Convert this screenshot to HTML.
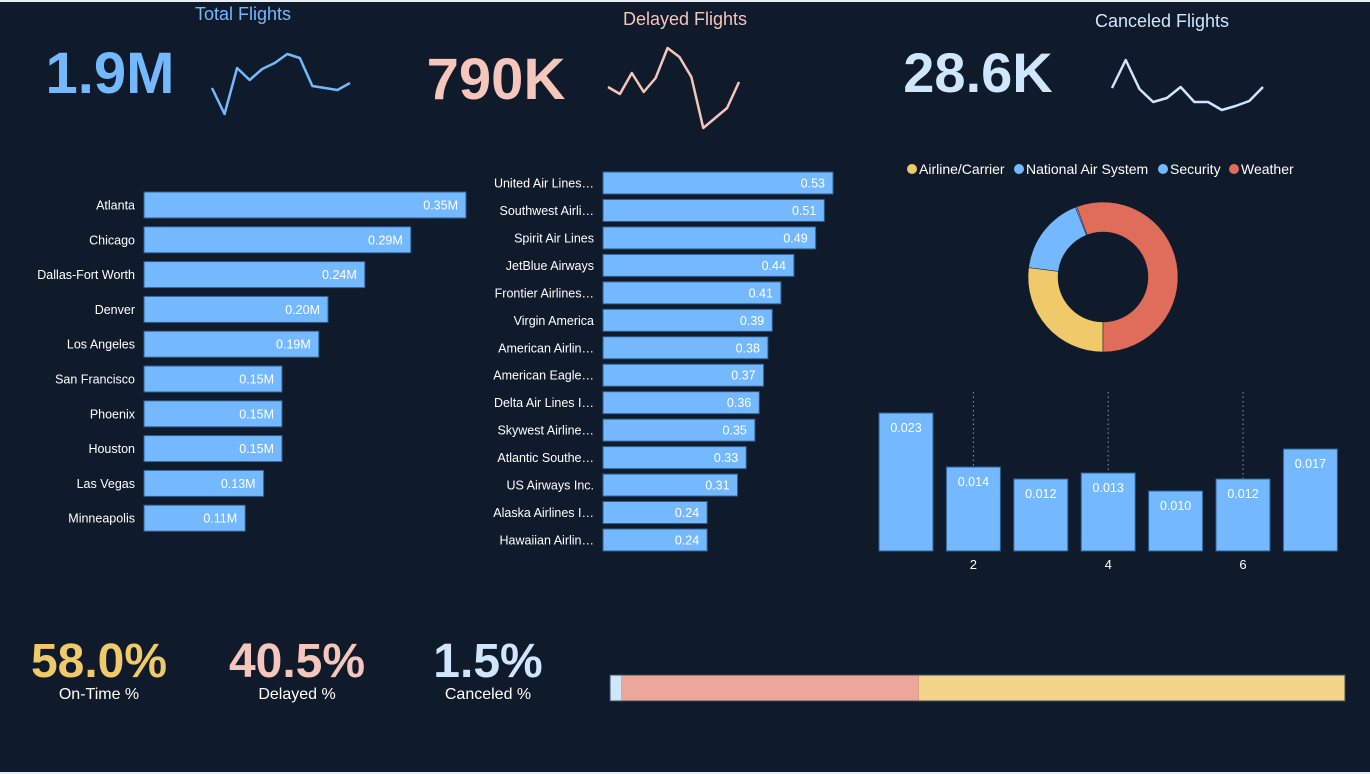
<!DOCTYPE html>
<html><head><meta charset="utf-8">
<style>
html,body{margin:0;padding:0;background:#0f1a2a;width:1370px;height:774px;overflow:hidden}
svg{display:block;font-family:"Liberation Sans",sans-serif}
</style></head>
<body>
<svg id="dash" width="1370" height="774" viewBox="0 0 1370 774" xmlns="http://www.w3.org/2000/svg">
<rect x="0" y="0" width="1370" height="774" fill="#0f1a2a"/>
<rect x="0" y="0" width="1370" height="2" fill="#e8edf2"/>
<rect x="0" y="772" width="1370" height="2" fill="#e8edf2"/>

<text x="243" y="20" text-anchor="middle" font-size="18" fill="#74b9ff">Total Flights</text>
<text x="110" y="93" text-anchor="middle" font-size="58" font-weight="bold" fill="#74b9ff">1.9M</text>
<text x="685" y="25" text-anchor="middle" font-size="18" fill="#f5c6bb">Delayed Flights</text>
<text x="496" y="99" text-anchor="middle" font-size="58" font-weight="bold" fill="#f5c6bb">790K</text>
<text x="1162" y="27" text-anchor="middle" font-size="18" fill="#cfe6ff">Canceled Flights</text>
<text x="978" y="92" text-anchor="middle" font-size="56" font-weight="bold" fill="#cfe6ff">28.6K</text>

<g id="spark"></g>
<g id="cities"></g>
<g id="airlines"></g>

<g font-size="14" fill="#ffffff">
<circle cx="912" cy="169" r="5" fill="#f0c96a"/>
<text x="919" y="174">Airline/Carrier</text>
<circle cx="1019" cy="169" r="5" fill="#74b9ff"/>
<text x="1026" y="174">National Air System</text>
<circle cx="1163" cy="169" r="5" fill="#74b9ff"/>
<text x="1170" y="174">Security</text>
<circle cx="1234" cy="169" r="5" fill="#e06c5a"/>
<text x="1241" y="174">Weather</text>
</g>
<g id="donut"></g>
<g id="cancelbars"></g>

<text x="99" y="677" text-anchor="middle" font-size="48" font-weight="bold" fill="#f0c96a">58.0%</text>
<text x="99" y="699" text-anchor="middle" font-size="16" fill="#ffffff">On-Time %</text>
<text x="297" y="677" text-anchor="middle" font-size="48" font-weight="bold" fill="#f5c6bb">40.5%</text>
<text x="297" y="699" text-anchor="middle" font-size="16" fill="#ffffff">Delayed %</text>
<text x="488" y="677" text-anchor="middle" font-size="48" font-weight="bold" fill="#cfe6ff">1.5%</text>
<text x="488" y="699" text-anchor="middle" font-size="16" fill="#ffffff">Canceled %</text>
<g id="stack"></g>
</svg>
<script>
const totalSpark=[176,150,196,184,195,201,210,206,178,176,174,181];
const delayedSpark=[53,46,67,48,62,92,83,63,12,22,32,58];
const canceledSpark=[32,60,31,18,22,33,18,18,10,14,19,33];
const cityNames=["Atlanta","Chicago","Dallas-Fort Worth","Denver","Los Angeles","San Francisco","Phoenix","Houston","Las Vegas","Minneapolis"];
const cityValues=[0.35,0.29,0.24,0.20,0.19,0.15,0.15,0.15,0.13,0.11];
const airlineNames=["United Air Lines…","Southwest Airli…","Spirit Air Lines","JetBlue Airways","Frontier Airlines…","Virgin America","American Airlin…","American Eagle…","Delta Air Lines I…","Skywest Airline…","Atlantic Southe…","US Airways Inc.","Alaska Airlines I…","Hawaiian Airlin…"];
const airlineValues=[0.53,0.51,0.49,0.44,0.41,0.39,0.38,0.37,0.36,0.35,0.33,0.31,0.24,0.24];
const causeNames=["Airline/Carrier","National Air System","Security","Weather"];
const causeValues=[27,17,0.3,55.7];
const causeColors=["#f0c96a","#74b9ff","#74b9ff","#e06c5a"];
const cancelMonths=[1,2,3,4,5,6,7];
const cancelValues=[0.023,0.014,0.012,0.013,0.010,0.012,0.017];
const cancelTicks=[2,4,6];
const statusNames=["Canceled","Delayed","On-Time"];
const statusValues=[1.5,40.5,58.0];
const statusColors=["#cfe6ff","#eca69a","#f2d388"];

const NS="http://www.w3.org/2000/svg";
function mk(tag,attrs,parent){const e=document.createElementNS(NS,tag);for(const k in attrs)e.setAttribute(k,attrs[k]);parent.appendChild(e);return e;}

// sparklines
function spark(vals,x0,x1,yTop,yBot,color,name){
  const g=document.getElementById('spark');
  const mn=Math.min(...vals),mx=Math.max(...vals);
  const xs=i=>x0+(x1-x0)*i/(vals.length-1);
  const ys=v=>yBot-(v-mn)/(mx-mn)*(yBot-yTop);
  const p=mk('polyline',{points:vals.map((v,i)=>xs(i)+','+ys(v)).join(' '),fill:'none',stroke:color,'stroke-width':2.5,'stroke-linejoin':'round'},g);
  
  
}
spark(totalSpark,212,350,54,114,'#74b9ff','total-sparkline');
spark(delayedSpark,608,739,48,128,'#f5c6bb','delayed-sparkline');
spark(canceledSpark,1112,1263,60,110,'#cfe6ff','canceled-sparkline');

// horizontal bars
function hbars(gid,names,vals,x0,pxPerUnit,yc0,step,h,fmt,prefix){
  const g=document.getElementById(gid);
  names.forEach((n,i)=>{
    const yc=yc0+i*step, w=vals[i]*pxPerUnit;
    const lab=mk('text',{x:x0-9,y:yc+4.5,'text-anchor':'end','font-size':12.5,fill:'#ffffff'},g);
    lab.textContent=n;
    
    
    const r=mk('rect',{x:x0,y:yc-h/2,width:w,height:h,fill:'#74b9ff',stroke:'#2e5f93','stroke-width':1},g);
    
    
    const t=mk('text',{x:x0+w-8,y:yc+4.5,'text-anchor':'end','font-size':12.5,fill:'#ffffff'},g);
    t.textContent=fmt(vals[i]);
    
    
  });
}
hbars('cities',cityNames,cityValues,144,920,205,34.8,26,v=>v.toFixed(2)+'M','city');
hbars('airlines',airlineNames,airlineValues,603,434,183,27.46,22,v=>v.toFixed(2),'airline');

// donut
(function(){
  const g=document.getElementById('donut');
  const cx=1103,cy=277,R=75,r=45;
  const tot=causeValues.reduce((a,b)=>a+b,0);
  let a=Math.PI; // start at bottom, clockwise
  causeValues.forEach((v,i)=>{
    const a2=a+v/tot*2*Math.PI;
    const pt=(ang,rad)=>[cx+rad*Math.sin(ang),cy-rad*Math.cos(ang)];
    const [x1,y1]=pt(a,R),[x2,y2]=pt(a2,R),[x3,y3]=pt(a2,r),[x4,y4]=pt(a,r);
    const lg=(a2-a)>Math.PI?1:0;
    const p=mk('path',{d:`M${x1},${y1} A${R},${R} 0 ${lg} 1 ${x2},${y2} L${x3},${y3} A${r},${r} 0 ${lg} 0 ${x4},${y4} Z`,fill:causeColors[i],stroke:'#0f1a2a','stroke-width':0.5},g);
    
    
    a=a2;
  });
})();

// cancel rate bars
(function(){
  const g=document.getElementById('cancelbars');
  const base=551, scale=6000, x0=906, step=67.4, w=54;
  const xs=m=>x0+(m-1)*step;
  cancelTicks.forEach(t=>{
    const idx=cancelMonths.indexOf(t);
    const top=base-cancelValues[idx]*scale;
    const l=mk('line',{x1:xs(t),x2:xs(t),y1:392,y2:top,stroke:'#8a96a6','stroke-width':1,'stroke-dasharray':'1.5,3'},g);
    
    
    const tl=mk('text',{x:xs(t),y:569,'text-anchor':'middle','font-size':13,fill:'#ffffff'},g);
    tl.textContent=t;
    
    
  });
  cancelMonths.forEach((m,i)=>{
    const h=cancelValues[i]*scale;
    const r=mk('rect',{x:xs(m)-w/2,y:base-h,width:w,height:h,fill:'#74b9ff',stroke:'#2e5f93','stroke-width':1},g);
    
    
    const t=mk('text',{x:xs(m),y:base-h+19,'text-anchor':'middle','font-size':12.5,fill:'#ffffff'},g);
    t.textContent=cancelValues[i].toFixed(3);
    
    
  });
})();

// stacked status bar
(function(){
  const g=document.getElementById('stack');
  const x0=610,W=735,y=675,h=26;
  const tot=statusValues.reduce((a,b)=>a+b,0);
  let x=x0;
  statusValues.forEach((v,i)=>{
    const w=v/tot*W;
    const r=mk('rect',{x:x,y:y,width:w,height:h,fill:statusColors[i]},g);
    
    
    x+=w;
  });
  const o=mk('rect',{x:x0,y:y,width:W,height:h,fill:'none',stroke:'#3b4a5c','stroke-width':1},g);
  
  
})();
</script>
</body></html>
